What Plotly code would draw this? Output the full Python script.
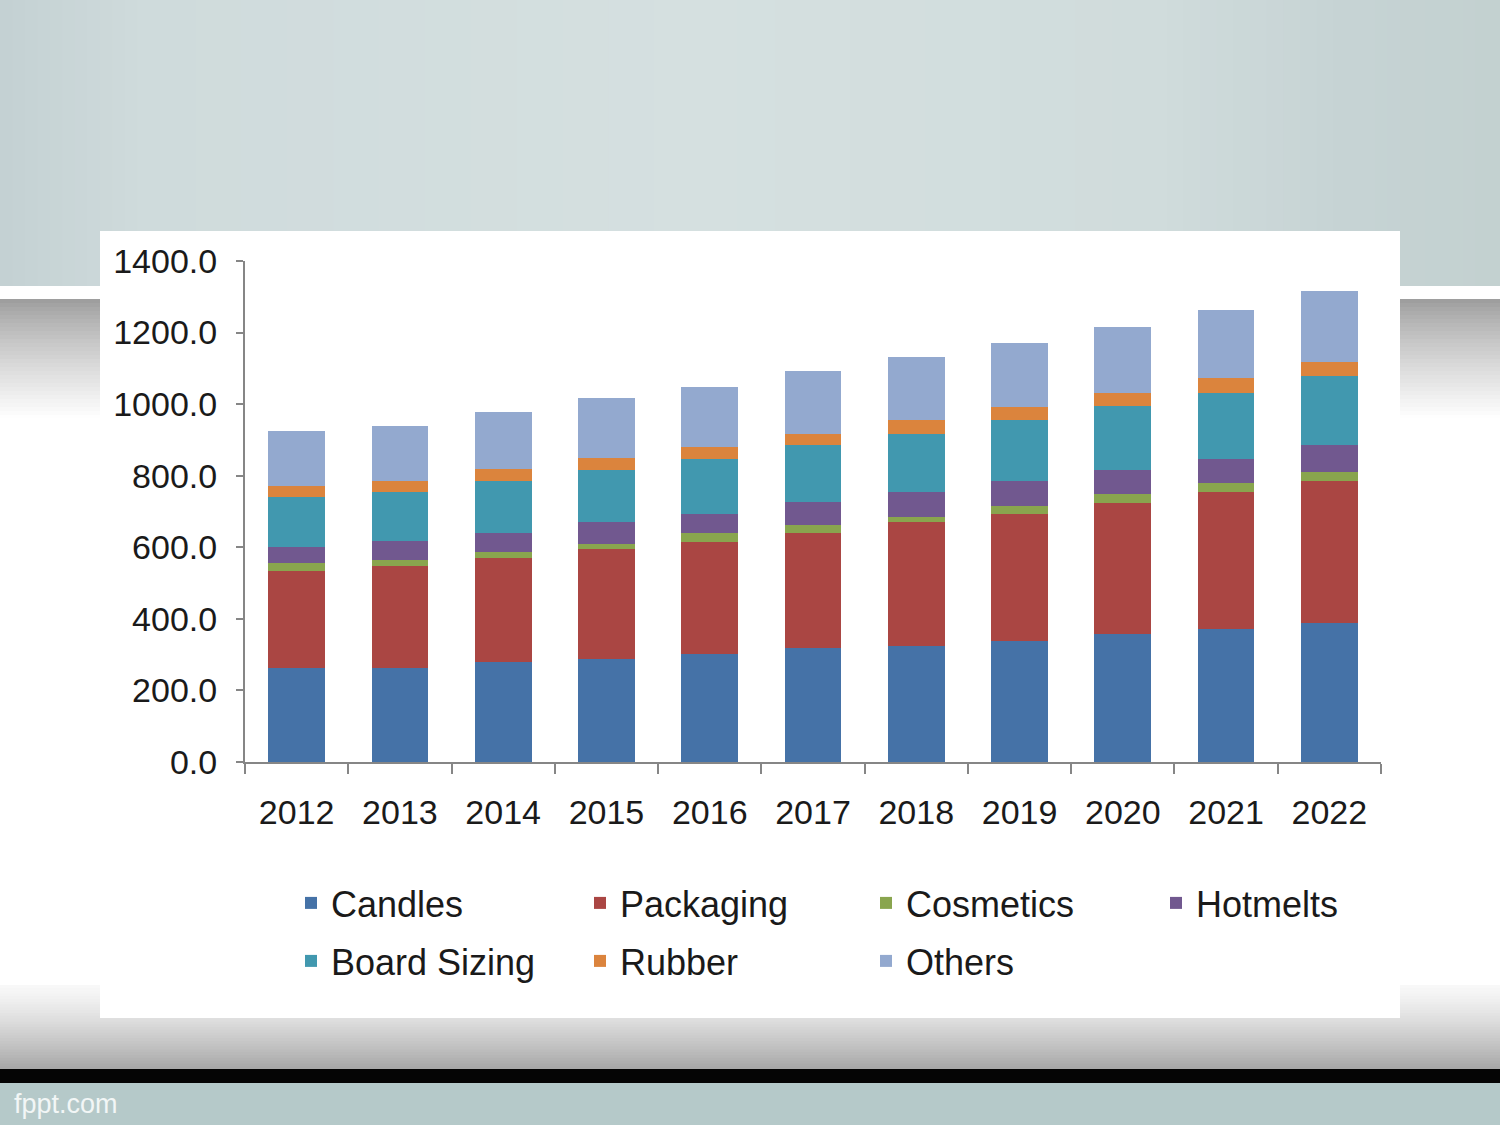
import plotly.graph_objects as go

years = ["2012", "2013", "2014", "2015", "2016", "2017", "2018", "2019", "2020", "2021", "2022"]
candles = [263, 264, 280, 287, 302, 318, 325, 339, 357, 372, 388]
packaging = [271, 284, 291, 307, 314, 323, 346, 354, 368, 383, 398]
cosmetics = [21, 16, 15, 15, 25, 21, 15, 23, 24, 25, 24]
hotmelts = [47, 53, 53, 61, 52, 64, 69, 69, 67, 67, 76]
board_sizing = [138, 138, 147, 146, 154, 160, 162, 171, 179, 185, 193]
rubber = [31, 31, 32, 33, 32, 31, 39, 37, 37, 40, 40]
others = [154, 154, 159, 169, 168, 176, 176, 179, 184, 191, 197]

series_names = ["Candles", "Packaging", "Cosmetics", "Hotmelts", "Board Sizing", "Rubber", "Others"]
series_values = [candles, packaging, cosmetics, hotmelts, board_sizing, rubber, others]
series_colors = ["#4572A7", "#AA4643", "#89A54E", "#71588F", "#4198AF", "#DB843D", "#93A9CF"]

W, H = 1500, 1125
PL, PR, PT, PB = 245, 1381, 261, 762  # plot area in pixels
FONT = "Liberation Sans, Arial, sans-serif"

# legend swatch centres (pixels) for each series: 4 columns x 2 rows
leg_cols = [311, 600, 886, 1176]
leg_rows = [905, 963]

fig = go.Figure()
legends = {}
for i, (name, vals, color) in enumerate(zip(series_names, series_values, series_colors)):
    key = "legend" if i == 0 else "legend%d" % (i + 1)
    fig.add_trace(go.Bar(x=years, y=vals, name=name, marker=dict(color=color, line=dict(width=0)),
                         legend=key))
    cx = leg_cols[i % 4]
    cy = leg_rows[i // 4]
    legends[key] = dict(orientation="h", xref="container", yref="container",
                        x=(cx - 20) / W, y=1 - (cy - 32) / H, xanchor="left", yanchor="top",
                        bgcolor="rgba(0,0,0,0)", font=dict(size=36, family=FONT, color="#1a1a1a"))


def px_x(px):
    return (px - PL) / (PR - PL)


def px_y(py):
    return (PB - py) / (PB - PT)


def lerp(c1, c2, t):
    a = [int(c1[i:i + 2], 16) for i in (1, 3, 5)]
    b = [int(c2[i:i + 2], 16) for i in (1, 3, 5)]
    return "#%02x%02x%02x" % tuple(round(a[k] + (b[k] - a[k]) * t) for k in range(3))


shapes = []


def rect(x0, y0, x1, y1, color):
    shapes.append(dict(type="rect", xref="paper", yref="paper", layer="below",
                       x0=px_x(x0), x1=px_x(x1), y0=px_y(y1), y1=px_y(y0),
                       fillcolor=color, line=dict(width=0)))


# top bluish-gray area with horizontal gradient
stops = [(0, "#c4d1d3"), (150, "#cfdbdc"), (700, "#d5e0e0"), (1150, "#d0dcdc"), (1350, "#c6d3d4"), (1500, "#c3d1d0")]
for i in range(len(stops) - 1):
    xa, ca = stops[i]
    xb, cb = stops[i + 1]
    n = 12
    for k in range(n):
        x0 = xa + (xb - xa) * k / n
        x1 = xa + (xb - xa) * (k + 1) / n + 1
        rect(x0, 0, x1, 287, lerp(ca, cb, (k + 0.5) / n))
# white stripe
rect(0, 286, W, 299, "#ffffff")
# gray gradient below stripe
n = 30
for k in range(n):
    y0 = 299 + 120 * k / n
    y1 = 299 + 120 * (k + 1) / n + 1
    t = (k + 0.5) / n
    rect(0, y0, W, y1, lerp("#9a9a9a", "#ffffff", t ** 0.8))
# white middle
rect(0, 418, W, 985, "#ffffff")
# bottom gradient
n = 30
for k in range(n):
    y0 = 985 + 84 * k / n
    y1 = 985 + 84 * (k + 1) / n + 1
    t = (k + 0.5) / n
    rect(0, y0, W, y1, lerp("#f8f8f8", "#a6a6a6", t ** 1.3))
# black band
rect(0, 1069, W, 1083, "#050505")
# bottom bluish band
rect(0, 1083, W, H, "#b5c9c9")
# white chart panel
rect(100, 231, 1400, 1018, "#ffffff")

fig.update_layout(
    width=W, height=H, autosize=False,
    margin=dict(l=PL, r=W - PR, t=PT, b=H - PB, pad=0),
    paper_bgcolor="#ffffff", plot_bgcolor="rgba(0,0,0,0)",
    barmode="stack", bargap=0.45,
    font=dict(family=FONT, size=34, color="#1a1a1a"),
    shapes=shapes,
    showlegend=True,
    annotations=[dict(text="fppt.com", xref="paper", yref="paper", x=px_x(12), y=px_y(1104),
                      xanchor="left", yanchor="middle", showarrow=False,
                      font=dict(family=FONT, size=27, color="#f2f6f6"))],
    **legends,
)

fig.update_xaxes(type="category", showline=True, linecolor="#868686", linewidth=2,
                 ticks="outside", tickson="boundaries", ticklen=10, tickwidth=2, tickcolor="#868686",
                 ticklabelstandoff=19, showgrid=False, zeroline=False,
                 tickfont=dict(family=FONT, size=34, color="#1a1a1a"))
fig.update_yaxes(range=[0, 1400], dtick=200, tick0=0, tickformat=".1f", showline=True,
                 linecolor="#868686", linewidth=2, ticks="outside", ticklen=7, tickwidth=2,
                 tickcolor="#868686", ticklabelstandoff=12, showgrid=False, zeroline=False,
                 tickfont=dict(family=FONT, size=34, color="#1a1a1a"))

fig.write_html("out.html", config={"displayModeBar": False},
               post_script="document.body.style.margin='0';document.body.style.overflow='hidden';")
